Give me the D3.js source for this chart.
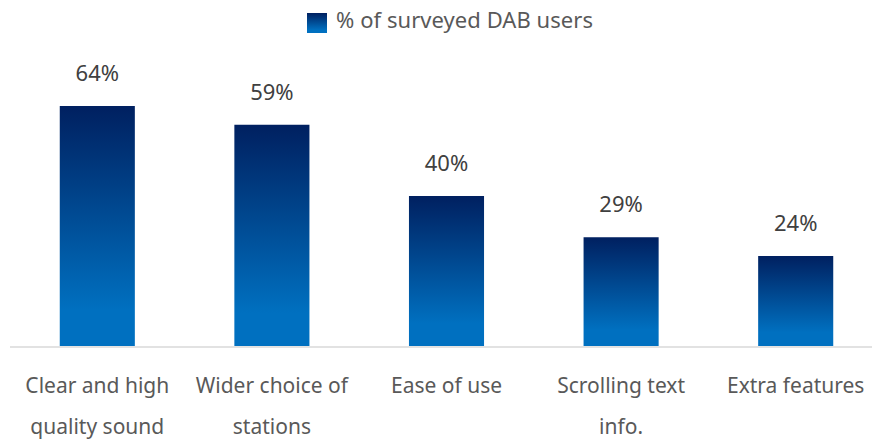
<!DOCTYPE html>
<html>
<head>
<meta charset="utf-8">
<script src="https://cdn.jsdelivr.net/npm/d3@7"></script>
<style>
  html, body { margin: 0; padding: 0; background: #fff; }
  svg { display: block; }
  text { font-family: "Noto Sans", sans-serif; }
</style>
</head>
<body>
<svg id="chart" width="872" height="441"></svg>
<script>
const categories = [
  ["Clear and high", "quality sound"],
  ["Wider choice of", "stations"],
  ["Ease of use"],
  ["Scrolling text", "info."],
  ["Extra features"]
];
const values = [64, 59, 40, 29, 24];
const seriesName = "% of surveyed DAB users";

const svg = d3.select("#chart");
const W = 872, H = 441;
const baseY = 346;

const defs = svg.append("defs");
const grad = defs.append("linearGradient")
  .attr("id", "barGrad").attr("x1", 0).attr("y1", 0).attr("x2", 0).attr("y2", 1);
grad.append("stop").attr("offset", "0%").attr("stop-color", "#002060");
grad.append("stop").attr("offset", "85%").attr("stop-color", "#0070C0");
grad.append("stop").attr("offset", "100%").attr("stop-color", "#0070C0");

const x = d3.scaleBand()
  .domain(d3.range(values.length))
  .range([10, 883])
  .paddingInner(0.57)
  .paddingOuter(0.285);

const y = d3.scaleLinear().domain([0, 64]).range([baseY, 106]);

// bars
svg.append("g").selectAll("rect")
  .data(values)
  .join("rect")
  .attr("x", (d, i) => x(i))
  .attr("y", d => y(d))
  .attr("width", x.bandwidth())
  .attr("height", d => baseY - y(d))
  .attr("fill", "url(#barGrad)");

// axis line
svg.append("line")
  .attr("x1", 10).attr("x2", W)
  .attr("y1", baseY + 1).attr("y2", baseY + 1)
  .attr("stroke", "#d9d9d9").attr("stroke-width", 1.5);

// value labels
svg.append("g").selectAll("text")
  .data(values)
  .join("text")
  .attr("x", (d, i) => x(i) + x.bandwidth() / 2)
  .attr("y", d => y(d) - 25)
  .attr("text-anchor", "middle")
  .attr("font-size", 22)
  .attr("fill", "#404040")
  .text(d => d + "%");

// category labels
const cat = svg.append("g").selectAll("text")
  .data(categories)
  .join("text")
  .attr("x", (d, i) => x(i) + x.bandwidth() / 2)
  .attr("y", 393)
  .attr("text-anchor", "middle")
  .attr("font-size", 21)
  .attr("fill", "#595959");
cat.selectAll("tspan")
  .data(d => d)
  .join("tspan")
  .attr("x", function() { return d3.select(this.parentNode).attr("x"); })
  .attr("dy", (d, i) => i === 0 ? 0 : 41)
  .text(d => d);

// legend
const leg = svg.append("g");
leg.append("rect")
  .attr("x", 307).attr("y", 13).attr("width", 20).attr("height", 20)
  .attr("fill", "url(#barGrad)");
leg.append("text")
  .attr("x", 336).attr("y", 28)
  .attr("font-size", 22)
  .attr("fill", "#595959")
  .attr("textLength", 257)
  .attr("lengthAdjust", "spacing")
  .text(seriesName);
</script>
</body>
</html>
